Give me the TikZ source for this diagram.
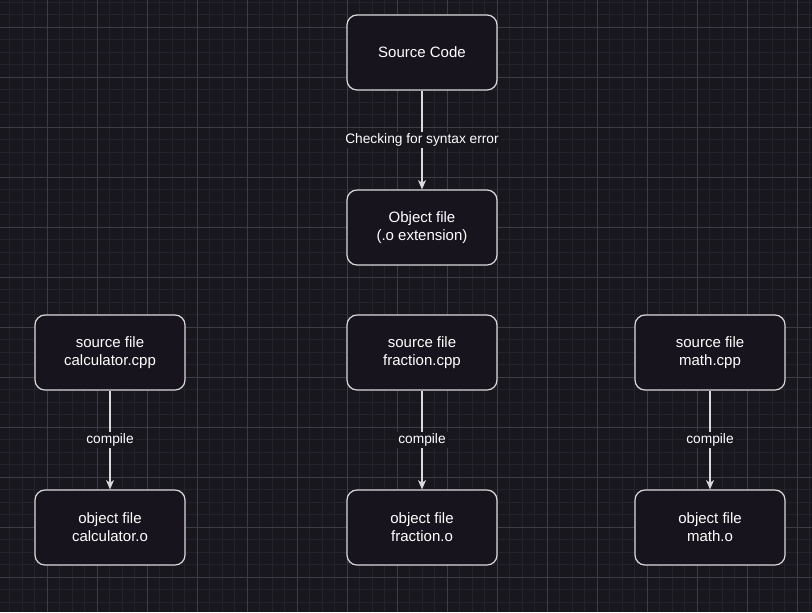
\documentclass[tikz,border=0pt]{standalone}
\usepackage{fontspec}
\setmainfont{Liberation Sans}
\usetikzlibrary{arrows.meta}
\definecolor{bgdark}{RGB}{24,23,30}
\definecolor{gridminor}{RGB}{36,35,43}
\definecolor{gridmajor}{RGB}{60,60,68}
\definecolor{boxfill}{RGB}{24,20,29}
\definecolor{boxline}{RGB}{218,218,218}
\tikzset{
    stepbox/.style={draw=boxline, line width=0.9pt, fill=boxfill, rounded corners=7.5pt,
        minimum width=112.5pt, minimum height=56.25pt, inner sep=0pt,
        align=center, text=white, font=\fontsize{11.25}{13.5}\selectfont},
    flow/.style={draw=boxline, line width=0.8pt, -{Stealth[length=7pt, width=6pt, inset=2pt]}},
    flowlabel/.style={fill=bgdark, text=white, inner sep=1.5pt, font=\fontsize{10.3}{12}\selectfont}
}

\begin{document}
\begin{tikzpicture}[x=0.75pt, y=-0.75pt]
    \useasboundingbox (0,0) rectangle (812,612);
    \clip (0,0) rectangle (812,612);
    \fill[bgdark] (0,0) rectangle (812,612);
    % grid
    \foreach \x in {9.5,22,...,812}{
    \draw[gridminor, line width=0.75pt] (\x,0) -- (\x,612);}
    \foreach \y in {2,14.5,...,612}{
    \draw[gridminor, line width=0.75pt] (0,\y) -- (812,\y);}
    \foreach \x in {47,97,...,797}{
    \draw[gridmajor, line width=0.75pt] (\x,0) -- (\x,612);}
    \foreach \y in {27,77,...,577}{
    \draw[gridmajor, line width=0.75pt] (0,\y) -- (812,\y);}
    % boxes
    \node[stepbox] (srccode) at (422,52.5) {Source Code};
    \node[stepbox] (objfile) at (422,227.5) {Object file\\(.o extension)};
    \node[stepbox] (srccalc) at (110,352.5) {source file\\calculator.cpp};
    \node[stepbox] (srcfrac) at (422,352.5) {source file\\fraction.cpp};
    \node[stepbox] (srcmath) at (710,352.5) {source file\\math.cpp};
    \node[stepbox] (objcalc) at (110,527.5) {object file\\calculator.o};
    \node[stepbox] (objfrac) at (422,527.5) {object file\\fraction.o};
    \node[stepbox] (objmath) at (710,527.5) {object file\\math.o};
    % arrows
    \draw[flow] (srccode) -- node[flowlabel]{Checking for syntax error} (objfile);
    \draw[flow] (srccalc) -- node[flowlabel]{compile} (objcalc);
    \draw[flow] (srcfrac) -- node[flowlabel]{compile} (objfrac);
    \draw[flow] (srcmath) -- node[flowlabel]{compile} (objmath);
\end{tikzpicture}
\end{document}
